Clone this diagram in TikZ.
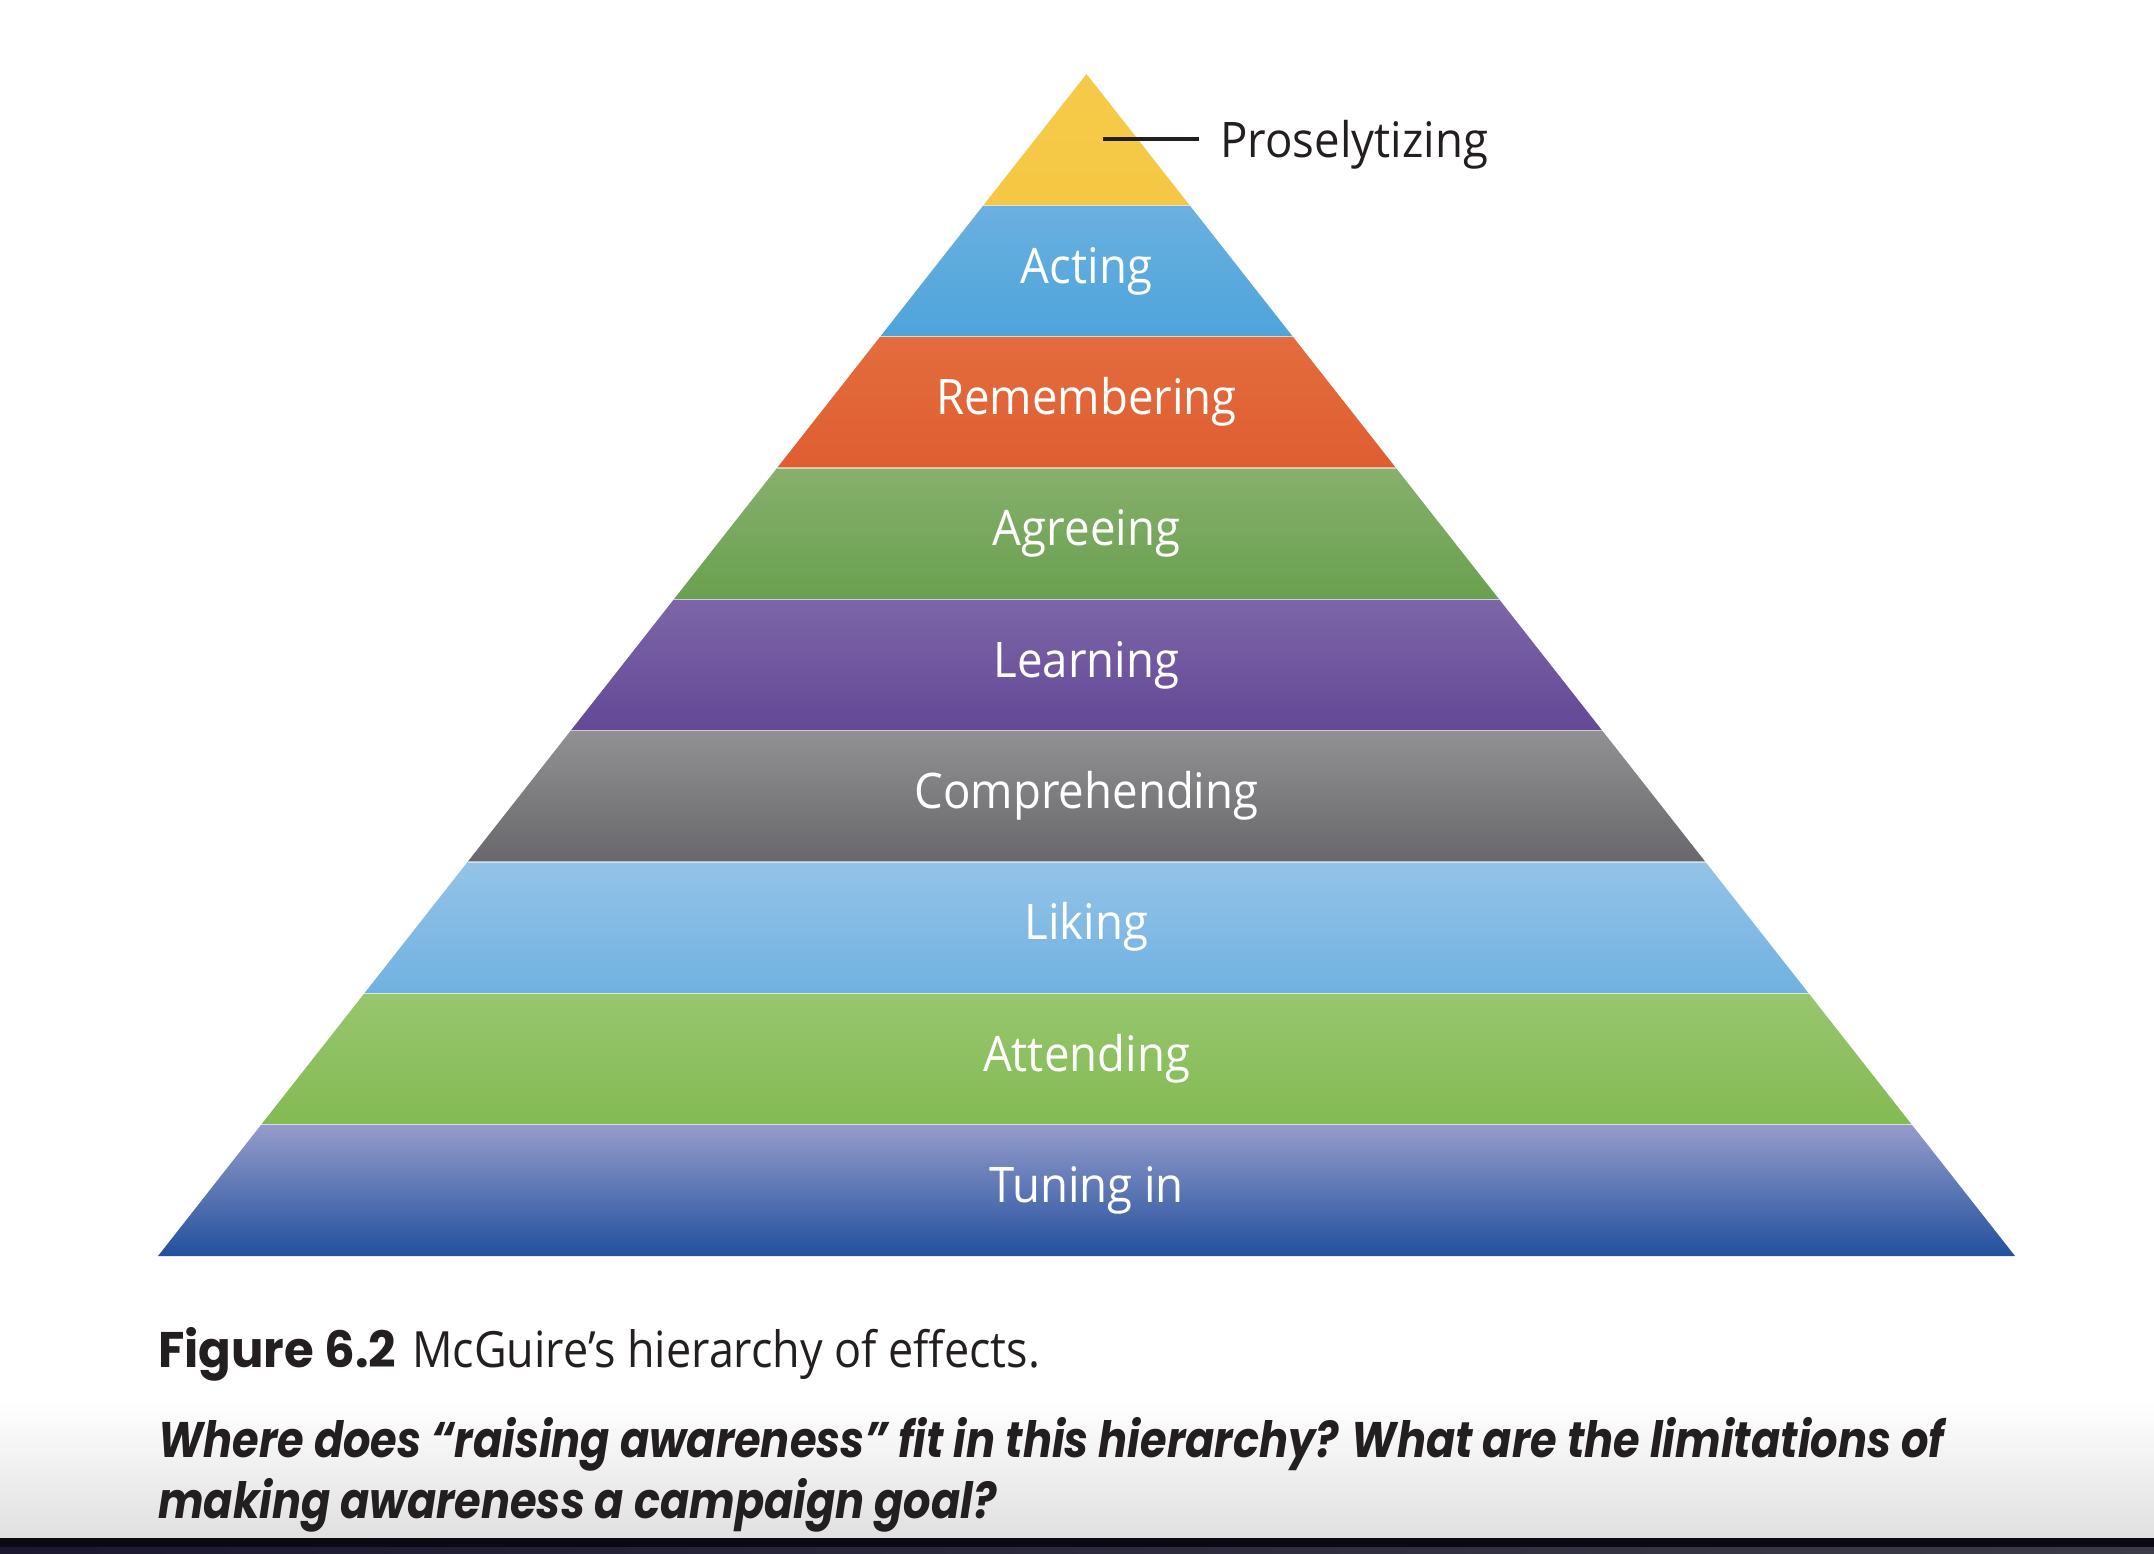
\documentclass[tikz,border=0pt]{standalone}
\usepackage{fontspec}
\usepackage{graphicx}
\setmainfont{Open Sans}
\newfontfamily\bandfont{Open Sans}[FakeStretch=0.93]
\newfontfamily\qfont{Poppins}

% pyramid band colours (top / bottom of each gradient)
\definecolor{prosT}{HTML}{F6CA49}\definecolor{prosB}{HTML}{F5C743}
\definecolor{actT}{HTML}{6BB0E0}\definecolor{actB}{HTML}{4DA4DB}
\definecolor{remT}{HTML}{E36C3D}\definecolor{remB}{HTML}{DF5E31}
\definecolor{agrT}{HTML}{87B06C}\definecolor{agrB}{HTML}{69A04F}
\definecolor{lrnT}{HTML}{7D66A8}\definecolor{lrnB}{HTML}{634896}
\definecolor{cmpT}{HTML}{919193}\definecolor{cmpB}{HTML}{68686C}
\definecolor{likT}{HTML}{94C3E8}\definecolor{likB}{HTML}{70B1E1}
\definecolor{attT}{HTML}{98C66E}\definecolor{attB}{HTML}{83BA53}
\definecolor{tunT}{HTML}{959CCB}\definecolor{tunB}{HTML}{22509D}
\definecolor{ink}{HTML}{231F20}
\definecolor{haze}{HTML}{E0E0E0}
\definecolor{barA}{HTML}{0B0914}
\definecolor{barL}{HTML}{1B1830}\definecolor{barM}{HTML}{2C1C44}\definecolor{barR}{HTML}{3C3C48}

% scale a piece of text horizontally to a given width (in pt)
\newsavebox\fitbox
\newcommand\fitto[2]{\sbox\fitbox{#2}\pgfmathsetmacro\fitsc{#1/\the\wd\fitbox}\scalebox{\fitsc}[1]{\usebox\fitbox}}
% question lines share the squeeze that brings the first line to its width
\newcommand\qlineone{Where does “raising awareness” fit in this hierarchy? What are the limitations of}
\newcommand\qline[1]{\sbox\fitbox{\qlineone}\pgfmathsetmacro\fitsc{1786/\the\wd\fitbox}\scalebox{\fitsc}[1]{#1}}

\begin{document}
\begin{tikzpicture}[x=1pt,y=-1pt,
  bandlabel/.style={anchor=base, inner sep=0pt, text=white,
    font=\bandfont\fontsize{49}{58}\selectfont},
  sidelabel/.style={anchor=base west, inner xsep=21pt, inner ysep=0pt, text=ink,
    font=\bandfont\fontsize{49}{58}\selectfont},
  qtext/.style={anchor=base west, inner sep=0pt, text=ink,
    font=\qfont\bfseries\itshape\fontsize{50}{60}\selectfont},
  leader/.style={draw=ink, line width=4pt},
  seam/.style={draw=white, draw opacity=0.55, line width=1.3pt}]
\useasboundingbox (0,0) rectangle (2154,1554);
\fill[white] (0,0) rectangle (2154,1554);

% greyish fade and dark strip along the lower edge
\shade[top color=white, bottom color=haze] (0,1400) rectangle (2154,1539);
\fill[barA] (0,1538) rectangle (2154,1547);
\shade[left color=barL, middle color=barM, right color=barR] (0,1547) rectangle (2154,1554);

% the nine bands of the pyramid
\foreach \k/\ct/\cb in {0/prosT/prosB,1/actT/actB,2/remT/remB,3/agrT/agrB,4/lrnT/lrnB,
                        5/cmpT/cmpB,6/likT/likB,7/attT/attB,8/tunT/tunB}{
  \pgfmathsetmacro\yt{74+\k*131.3333}
  \pgfmathsetmacro\yb{\yt+131.3333}
  \pgfmathsetmacro\wt{(\yt-74)*0.78553}
  \pgfmathsetmacro\wb{(\yb-74)*0.78553}
  \shade[top color=\ct, bottom color=\cb]
    (1086.5-\wt,\yt) -- (1086.5+\wt,\yt) -- (1086.5+\wb,\yb) -- (1086.5-\wb,\yb) -- cycle;
}
% thin light seams between the bands
\foreach \k in {1,...,8}{
  \pgfmathsetmacro\ys{74+\k*131.3333}
  \pgfmathsetmacro\ws{(\ys-74)*0.78553}
  \draw[seam] (1086.5-\ws,\ys) -- (1086.5+\ws,\ys);
}

% band labels
\node[bandlabel] (acting)  at (1086.5,283.3)  {Acting};
\node[bandlabel] (remem)   at (1086.5,414.6)  {Remembering};
\node[bandlabel] (agree)   at (1086.5,545.9)  {Agreeing};
\node[bandlabel] (learn)   at (1086.5,677.2)  {Learning};
\node[bandlabel] (compr)   at (1086.5,808.5)  {Comprehending};
\node[bandlabel] (liking)  at (1086.5,939.9)  {Liking};
\node[bandlabel] (attend)  at (1086.5,1071.2) {Attending};
\node[bandlabel] (tuning)  at (1086.5,1202.5) {Tuning in};

% label of the apex, with its leader line
\coordinate (apexpt) at (1103,139);
\node[sidelabel] (pros) at (1199,158) {Proselytizing};
\draw[leader] (apexpt) -- (apexpt -| pros.west);

% caption
\node[anchor=base west, inner sep=0pt, text=ink] (caption) at (158,1367)
  {\fontsize{50}{60}\selectfont\fitto{238}{\qfont\bfseries Figure 6.2}\hspace{16pt}\fitto{628}{McGuire’s hierarchy of effects.}};

% discussion question
\node[qtext] (qone) at (158,1457) {\qline{\qlineone}};
\node[qtext] (qtwo) at (158,1518) {\qline{making awareness a campaign goal?}};
\end{tikzpicture}
\end{document}
